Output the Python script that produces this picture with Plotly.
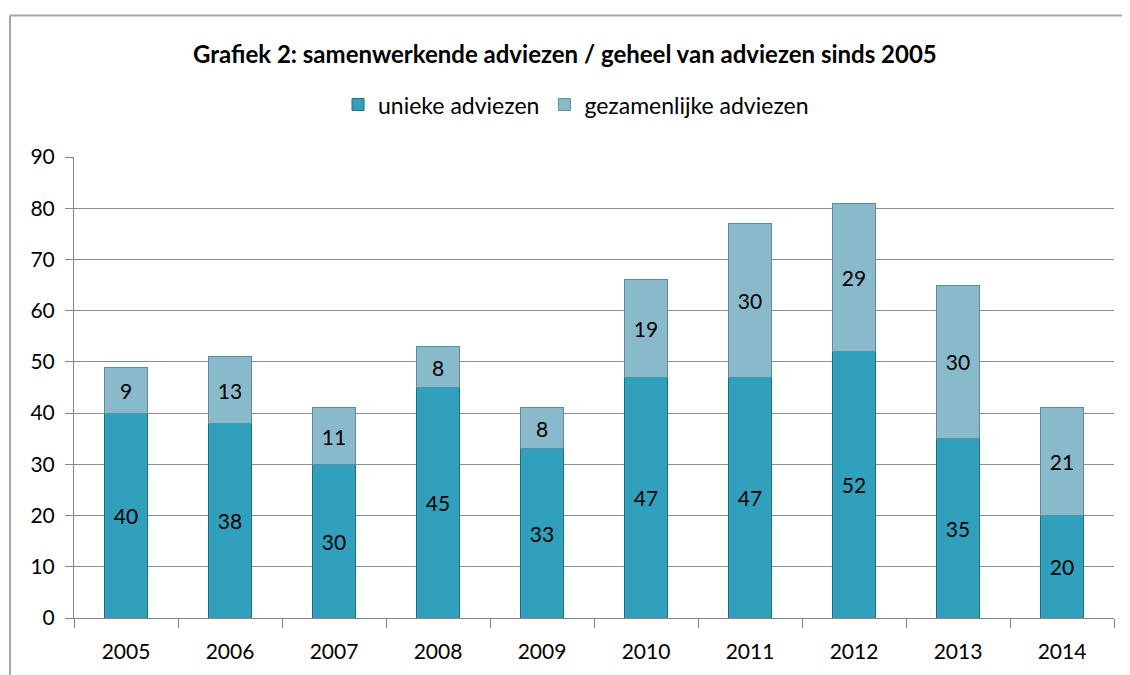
import plotly.graph_objects as go

years = ["2005", "2006", "2007", "2008", "2009", "2010", "2011", "2012", "2013", "2014"]
unieke = [40, 38, 30, 45, 33, 47, 47, 52, 35, 20]
gezamenlijke = [9, 13, 11, 8, 8, 19, 30, 29, 30, 21]
y_ticks = [0, 10, 20, 30, 40, 50, 60, 70, 80, 90]

FONT = "Lato, 'Liberation Sans', sans-serif"
OFF = 8  # page body margin

fig = go.Figure()
fig.add_trace(go.Bar(
    x=years, y=unieke, name="unieke adviezen",
    marker=dict(color="#30A0BD", line=dict(color="#1E6F84", width=1)),
    text=unieke, textposition="inside", insidetextanchor="middle",
    textfont=dict(color="#000000", size=21, family=FONT), constraintext="none",
))
fig.add_trace(go.Bar(
    x=years, y=gezamenlijke, name="gezamenlijke adviezen",
    marker=dict(color="#88BACC", line=dict(color="#5E8C9B", width=1)),
    text=gezamenlijke, textposition="inside", insidetextanchor="middle",
    textfont=dict(color="#000000", size=21, family=FONT), constraintext="none",
))

# page coordinates of plot area
L, R, T, B = 74, 1114, 157, 623
W, H = 1130 - OFF, 675 - OFF
pw, ph = R - L, B - T

def px(x):
    return (x - L) / pw

def py(y):
    return (B - y) / ph

fig.update_layout(
    width=W, height=H,
    margin=dict(l=L - OFF, r=W - (R - OFF), t=T - OFF, b=H - (B - OFF)),
    barmode="stack", bargap=0.59,
    plot_bgcolor="white", paper_bgcolor="white",
    font=dict(family=FONT, size=21, color="#000000"),
    showlegend=True,
    legend=dict(orientation="h", x=px(576), xanchor="center", y=py(104), yanchor="middle",
                font=dict(size=23, family=FONT), itemwidth=30, traceorder="normal"),
    xaxis=dict(type="category", showline=True, linecolor="#868686", linewidth=1,
               ticks="outside", tickson="boundaries", ticklen=9, tickcolor="#868686",
               tickfont=dict(size=21, family=FONT), ticklabelstandoff=15, showgrid=False),
    yaxis=dict(range=[0, 90], tickvals=y_ticks, showline=True, linecolor="#868686", linewidth=1,
               ticks="outside", ticklen=8, tickcolor="#868686",
               gridcolor="#8C8C8C", gridwidth=1, tickfont=dict(size=21, family=FONT),
               ticklabelstandoff=6, zeroline=False),
    annotations=[dict(
        text="<b>Grafiek 2: samenwerkende adviezen / geheel van adviezen sinds 2005</b>",
        xref="paper", yref="paper", x=px(565), y=py(52), xanchor="center", yanchor="middle",
        showarrow=False, font=dict(size=24, family=FONT, color="#000000"),
    )],
    shapes=[
        dict(type="line", xref="paper", yref="paper", x0=px(10), x1=px(1140), y0=py(14), y1=py(14),
             line=dict(color="#A6A6A6", width=2)),
        dict(type="line", xref="paper", yref="paper", x0=px(10), x1=px(10), y0=py(14), y1=py(690),
             line=dict(color="#A6A6A6", width=2)),
    ],
)

fig.write_html("out.html")
